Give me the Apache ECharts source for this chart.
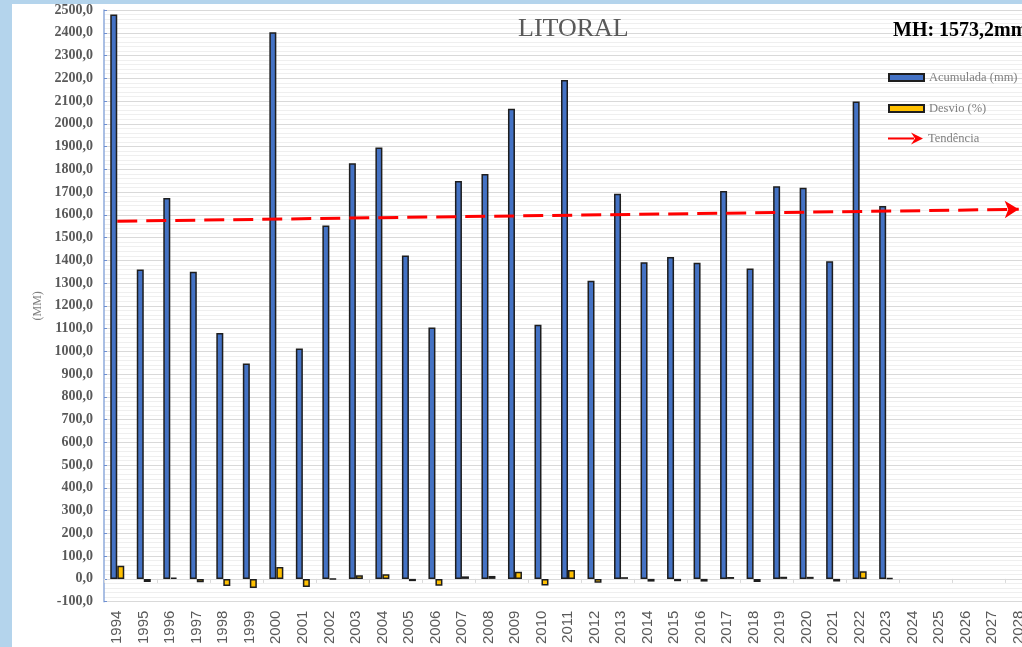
<!DOCTYPE html>
<html>
<head>
<meta charset="utf-8">
<script src="https://cdn.jsdelivr.net/npm/echarts@6/dist/echarts.min.js"></script>
<style>
  html, body { margin: 0; padding: 0; background: #fff; overflow: hidden; }
  #wrap { width: 1022px; height: 647px; overflow: hidden; background: #fff; box-shadow: inset 12px 4px 0 #b4d4ec; }
  #chart { width: 1040px; height: 647px; }
</style>
</head>
<body>
<div id="wrap"><div id="chart"></div></div>
<script>
// anos (eixo x vai ate 2028, sem dados depois de 2023)
var anos = ['1994', '1995', '1996', '1997', '1998', '1999', '2000', '2001', '2002', '2003',
    '2004', '2005', '2006', '2007', '2008', '2009', '2010', '2011', '2012', '2013',
    '2014', '2015', '2016', '2017', '2018', '2019', '2020', '2021', '2022', '2023',
    '2024', '2025', '2026', '2027', '2028'];

// chuva acumulada (mm)
var acumulada = [2480, 1360, 1674, 1350, 1080, 947, 2402, 1012, 1553, 1826,
    1896, 1421, 1105, 1749, 1779, 2066, 1117, 2192, 1310, 1693,
    1392, 1415, 1389, 1705, 1364, 1725, 1719, 1396, 2098, 1639];

// desvio (%) em relacao a media historica
var desvio = [57.5, -13.5, 6.2, -14.4, -31.4, -40, 52.5, -35.9, -1.6, 16,
    20.5, -9.9, -30, 11, 12.9, 31.3, -29.2, 39.1, -16.9, 7.4,
    -11.9, -10.2, -11.9, 8.2, -13.5, 9.3, 9, -11.6, 33.2, 4];

// linha de tendencia (inicio / fim)
var tendencia = [['1994', 1572], ['2028', 1624]];

var grays = { text: '#595959', legend: '#7f7f7f', major: '#d9d9d9', minor: '#efefef' };

var chart = echarts.init(document.getElementById('chart'));

var legendBase = function (top, name, h, icon) {
    return {
        left: 888,
        top: top,
        padding: 0,
        orient: 'vertical',
        itemWidth: 35,
        itemHeight: h,
        itemGap: 5,
        icon: icon,
        selectedMode: false,
        data: [name],
        textStyle: { fontFamily: 'Liberation Serif', fontSize: 12.5, color: grays.legend }
    };
};

chart.setOption({
    animation: false,
    title: [{
        text: 'LITORAL',
        left: 518,
        top: 16,
        padding: 0,
        textStyle: { fontFamily: 'Liberation Serif', fontSize: 26, fontWeight: 'normal', color: grays.text }
    }, {
        text: 'MH: 1573,2mm',
        left: 893,
        top: 21,
        padding: 0,
        textStyle: { fontFamily: 'Liberation Serif', fontSize: 20, fontWeight: 'bold', color: '#000' }
    }],
    legend: [
        legendBase(71, 'Acumulada (mm)', 7, 'rect'),
        legendBase(102, 'Desvio (%)', 7, 'rect'),
        Object.assign(legendBase(132, 'Tendência', 12,
            'path://M0 5 L26 5 L26 7 L0 7 Z M23 0 L35 6 L23 12 L27 6 Z'), {
            data: [{ name: 'Tendência', itemStyle: { color: '#ff0000', borderWidth: 0 } }]
        })
    ],
    grid: { left: 104, top: 10, width: 928, height: 593, containLabel: false },
    xAxis: [{
        type: 'category',
        data: anos,
        axisLine: { onZero: true, lineStyle: { color: grays.major, width: 1 } },
        axisTick: { show: true, length: 4, lineStyle: { color: grays.major } },
        axisLabel: { show: false },
        splitLine: { show: false }
    }, {
        type: 'category',
        data: anos,
        position: 'bottom',
        axisLine: { show: false },
        axisTick: { show: false },
        axisLabel: {
            rotate: 90,
            margin: 9,
            interval: 0,
            fontFamily: 'Liberation Sans',
            fontSize: 15,
            color: grays.text
        }
    }],
    yAxis: {
        type: 'value',
        min: -100,
        max: 2500,
        interval: 100,
        name: '(MM)',
        nameLocation: 'middle',
        nameGap: 50,
        nameTextStyle: { fontFamily: 'Liberation Serif', fontSize: 12, color: grays.legend },
        axisLine: { show: true, lineStyle: { color: '#8eaadb', width: 1.5 } },
        axisTick: { show: true, inside: true, length: 3, lineStyle: { color: '#6f8fd0' } },
        axisLabel: {
            margin: 11,
            fontFamily: 'Liberation Serif',
            fontWeight: 'bold',
            fontSize: 14,
            color: grays.text,
            formatter: function (v) { return v.toFixed(1).replace('.', ','); }
        },
        splitLine: { lineStyle: { color: grays.major, width: 1 } },
        minorTick: { show: false, splitNumber: 5 },
        minorSplitLine: { show: true, lineStyle: { color: grays.minor, width: 1 } }
    },
    series: [{
        name: 'Acumulada (mm)',
        type: 'bar',
        data: acumulada,
        barWidth: 7,
        barGap: '0%',
        itemStyle: { color: '#4472c4', borderColor: '#1e1e1e', borderWidth: 1.5 }
    }, {
        name: 'Desvio (%)',
        type: 'bar',
        data: desvio,
        barWidth: 7,
        barGap: '0%',
        itemStyle: { color: '#ffc000', borderColor: '#1e1e1e', borderWidth: 1.5 }
    }, {
        name: 'Tendência',
        type: 'line',
        data: tendencia,
        symbol: 'none',
        silent: true,
        z: 5,
        lineStyle: { opacity: 0 },
        itemStyle: { color: '#ff0000' },
        markLine: {
            silent: true,
            symbol: ['none', 'arrow'],
            symbolSize: [13, 14],
            label: { show: false },
            lineStyle: { color: '#ff0000', type: [20, 9], width: 3 },
            data: [[{ coord: tendencia[0] }, { coord: tendencia[1] }]]
        }
    }]
});
</script>
</body>
</html>
